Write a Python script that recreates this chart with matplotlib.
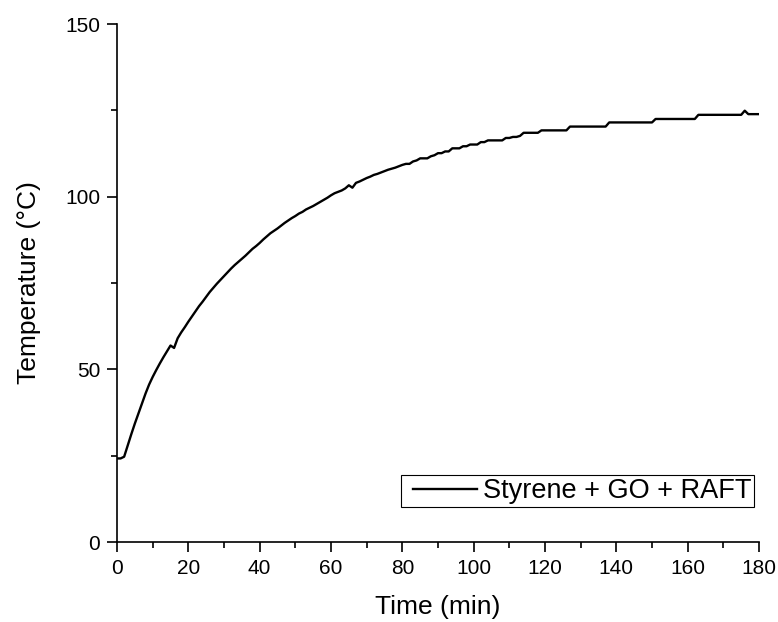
import numpy as np
import matplotlib
matplotlib.use('Agg')
import matplotlib.pyplot as plt
from matplotlib.ticker import MultipleLocator
from matplotlib.legend_handler import HandlerLine2D

# Time (min), one reading per minute
time_min = list(range(0, 181))

# Temperature (deg C)
temperature = [
    24.2, 24.2, 24.7, 28.0, 31.2, 34.3, 37.2, 40.1, 43.0, 45.6,
    47.8, 49.8, 51.7, 53.5, 55.2, 56.9, 56.2, 59.0, 60.7, 62.2,
    63.8, 65.3, 66.8, 68.3, 69.6, 71.0, 72.4, 73.6, 74.8, 75.9,
    77.0, 78.1, 79.2, 80.2, 81.1, 82.0, 82.9, 83.9, 84.9, 85.7,
    86.6, 87.6, 88.5, 89.4, 90.1, 90.8, 91.6, 92.4, 93.1, 93.8,
    94.4, 95.1, 95.6, 96.3, 96.8, 97.3, 97.9, 98.5, 99.1, 99.7,
    100.4, 101.0, 101.4, 101.8, 102.4, 103.3, 102.6, 104.0, 104.4, 104.9,
    105.4, 105.8, 106.3, 106.6, 107.0, 107.4, 107.8, 108.1, 108.4, 108.8,
    109.2, 109.5, 109.5, 110.2, 110.5, 111.1, 111.1, 111.1, 111.7, 112.0,
    112.6, 112.6, 113.1, 113.1, 114.0, 114.0, 114.0, 114.6, 114.6, 115.1,
    115.1, 115.1, 115.8, 115.8, 116.3, 116.3, 116.3, 116.3, 116.3, 117.0,
    117.0, 117.3, 117.3, 117.6, 118.5, 118.5, 118.5, 118.5, 118.5, 119.2,
    119.2, 119.2, 119.2, 119.2, 119.2, 119.2, 119.2, 120.3, 120.3, 120.3,
    120.3, 120.3, 120.3, 120.3, 120.3, 120.3, 120.3, 120.3, 121.5, 121.5,
    121.5, 121.5, 121.5, 121.5, 121.5, 121.5, 121.5, 121.5, 121.5, 121.5,
    121.5, 122.5, 122.5, 122.5, 122.5, 122.5, 122.5, 122.5, 122.5, 122.5,
    122.5, 122.5, 122.5, 123.7, 123.7, 123.7, 123.7, 123.7, 123.7, 123.7,
    123.7, 123.7, 123.7, 123.7, 123.7, 123.7, 124.9, 123.9, 123.9, 123.9,
    123.9,
]

series_label = 'Styrene + GO + RAFT'


class LeadLineHandler(HandlerLine2D):
    """Legend line with some blank space before it, like Origin draws it."""
    def get_xdata(self, legend, xdescent, ydescent, width, height, fontsize):
        xdata, xmark = super().get_xdata(legend, xdescent, ydescent, width, height, fontsize)
        xdata = np.asarray(xdata, dtype=float)
        xdata[0] += width * 0.13
        return xdata, xmark


plt.rcParams['font.family'] = ['Liberation Sans', 'DejaVu Sans']
plt.rcParams['font.size'] = 15

fig = plt.figure(figsize=(7.78, 6.22), dpi=100)
ax = fig.add_axes([0.1504, 0.1286, 0.8252, 0.8328])

line, = ax.plot(time_min, temperature, color='black', lw=1.7, label=series_label)

ax.set_xlim(0, 180)
ax.set_ylim(0, 150)
ax.xaxis.set_major_locator(MultipleLocator(20))
ax.xaxis.set_minor_locator(MultipleLocator(10))
ax.yaxis.set_major_locator(MultipleLocator(50))
ax.yaxis.set_minor_locator(MultipleLocator(25))

for side in ['top', 'right']:
    ax.spines[side].set_visible(False)
for side in ['left', 'bottom']:
    ax.spines[side].set_linewidth(1.2)

ax.tick_params(which='major', direction='out', length=7.2, width=1.2, labelsize=15, pad=5)
ax.tick_params(which='minor', direction='out', length=4, width=1.2)

ax.set_xlabel('Time (min)', fontsize=19, labelpad=12)
ax.set_ylabel('Temperature (°C)', fontsize=19, labelpad=17)

leg = ax.legend(loc='lower right', bbox_to_anchor=(0.992, 0.068), borderaxespad=0,
                fancybox=False, edgecolor='black', framealpha=1, fontsize=19.5,
                handlelength=2.7, handletextpad=0.22, borderpad=0.1,
                handler_map={line: LeadLineHandler()})
leg.get_frame().set_linewidth(0.8)

fig.savefig('out.png', dpi=100)
